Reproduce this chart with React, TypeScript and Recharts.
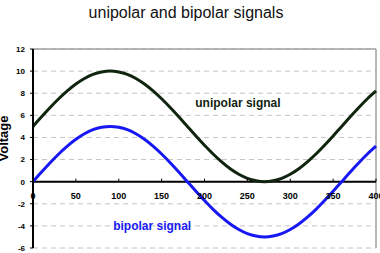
import { LineChart, Line, XAxis, YAxis, CartesianGrid, ReferenceLine, ReferenceDot } from 'recharts'

// phase angle in degrees
const angles = [
  0, 10, 20, 30, 40, 50, 60, 70, 80, 90, 100, 110, 120, 130, 140, 150, 160, 170, 180, 190, 200,
  210, 220, 230, 240, 250, 260, 270, 280, 290, 300, 310, 320, 330, 340, 350, 360, 370, 380, 390, 400,
]

const unipolar = [
  5, 5.87, 6.71, 7.5, 8.21, 8.83, 9.33, 9.7, 9.92, 10, 9.92, 9.7, 9.33, 8.83, 8.21, 7.5, 6.71, 5.87, 5, 4.13, 3.29,
  2.5, 1.79, 1.17, 0.67, 0.3, 0.08, 0, 0.08, 0.3, 0.67, 1.17, 1.79, 2.5, 3.29, 4.13, 5, 5.87, 6.71, 7.5, 8.21,
]

const bipolar = [
  0, 0.87, 1.71, 2.5, 3.21, 3.83, 4.33, 4.7, 4.92, 5, 4.92, 4.7, 4.33, 3.83, 3.21, 2.5, 1.71, 0.87, 0, -0.87, -1.71,
  -2.5, -3.21, -3.83, -4.33, -4.7, -4.92, -5, -4.92, -4.7, -4.33, -3.83, -3.21, -2.5, -1.71, -0.87, 0, 0.87, 1.71, 2.5, 3.21,
]

const xTicks = [0, 50, 100, 150, 200, 250, 300, 350, 400]
const yTicks = [-6, -4, -2, 0, 2, 4, 6, 8, 10, 12]

const W = 380
const H = 253
const X_AXIS_H = 5
const M = { top: 49, right: 4, bottom: 0, left: 0 }
const Y_MIN = -6
const Y_MAX = 12

const data = angles.map((a, i) => ({ angle: a, unipolar: unipolar[i], bipolar: bipolar[i] }))

// x axis sits on the zero line, so lift the tick labels up from the plot bottom
const plotH = H - M.top - M.bottom - X_AXIS_H
const zeroLift = (plotH * (0 - Y_MIN)) / (Y_MAX - Y_MIN)

const XTick = (props: any) => {
  const { x, y, payload } = props
  const y0 = y - zeroLift
  return (
    <g>
      <line x1={x} x2={x} y1={y0 - 3} y2={y0} stroke="#000" strokeWidth={1} />
      <text x={x} y={y0 + 17} textAnchor="middle" fontSize={9} fontWeight="bold" fill="#000" fontFamily="Arial, Liberation Sans, sans-serif">
        {payload.value}
      </text>
    </g>
  )
}

export default function App() {
  return (
    <div style={{ position: 'absolute', left: 0, top: 0, width: W, height: H, background: '#fff', fontFamily: 'Arial, "Liberation Sans", sans-serif' }}>
      <div style={{ position: 'absolute', left: -4, top: 4, width: W, textAlign: 'center', fontSize: 16, color: '#111' }}>
        unipolar and bipolar signals
      </div>
      <LineChart width={W} height={H} data={data} margin={M}>
        <CartesianGrid vertical={false} stroke="#c4c4c4" strokeDasharray="5 4" />
        <XAxis
          dataKey="angle"
          type="number"
          domain={[0, 400]}
          ticks={xTicks}
          axisLine={false}
          tickLine={false}
          tickSize={0}
          tickMargin={0}
          tick={<XTick />}
          height={X_AXIS_H}
          interval={0}
        />
        <YAxis
          domain={[Y_MIN, Y_MAX]}
          ticks={yTicks}
          width={33}
          axisLine={{ stroke: '#000', strokeWidth: 2 }}
          tickLine={{ stroke: '#000' }}
          tickSize={3}
          tickMargin={5}
          tick={{ fontSize: 8, fontWeight: 'bold', fill: '#000' }}
          interval={0}
          label={{ value: 'Voltage', angle: -90, position: 'insideLeft', dx: -2, dy: 13, style: { fontSize: 13, fontWeight: 'bold', fill: '#000' } }}
        />
        <ReferenceLine y={Y_MAX} stroke="#a0a0a0" strokeWidth={1.5} />
        <ReferenceLine x={400} stroke="#a0a0a0" strokeWidth={1.5} />
        <ReferenceLine y={0} stroke="#000" strokeWidth={2} />
        <Line type="monotone" dataKey="unipolar" stroke="#102410" strokeWidth={3} dot={false} isAnimationActive={false} />
        <Line type="monotone" dataKey="bipolar" stroke="#1818f4" strokeWidth={3} dot={false} isAnimationActive={false} />
        <ReferenceDot x={239} y={7.1} r={0} stroke="none" fill="none"
          label={{ value: 'unipolar signal', position: 'center', fontSize: 12, fontWeight: 'bold', fill: '#102410' }} />
        <ReferenceDot x={139} y={-3.95} r={0} stroke="none" fill="none"
          label={{ value: 'bipolar signal', position: 'center', fontSize: 12, fontWeight: 'bold', fill: '#1818f4' }} />
      </LineChart>
    </div>
  )
}
